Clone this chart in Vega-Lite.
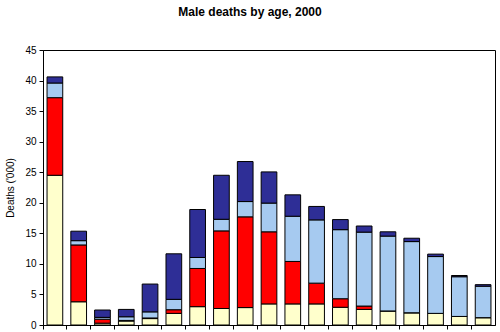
{
  "$schema": "https://vega.github.io/schema/vega-lite/v6.json",
  "width": 452,
  "height": 275,
  "autosize": "none",
  "padding": {"left": 43, "top": 50, "right": 5, "bottom": 7},
  "background": "white",
  "title": {
    "text": "Male deaths by age, 2000",
    "font": "Liberation Sans",
    "fontSize": 12,
    "fontWeight": "bold",
    "color": "black",
    "anchor": "middle",
    "frame": "group",
    "dx": -19,
    "offset": 26
  },
  "config": {
    "view": {"stroke": "black", "strokeWidth": 1},
    "axis": {
      "labelFont": "Liberation Sans",
      "labelFontSize": 10,
      "labelColor": "black",
      "titleFont": "Liberation Sans",
      "titleFontSize": 10,
      "titleFontWeight": "normal",
      "titleColor": "black",
      "domainColor": "black",
      "tickColor": "black",
      "grid": false
    }
  },
  "data": {
    "values": [
      {"age": "0", "cause": "Communicable", "rank": 1, "deaths": 24.5},
      {"age": "0", "cause": "HIV/AIDS", "rank": 2, "deaths": 12.7},
      {"age": "0", "cause": "Non-communicable", "rank": 3, "deaths": 2.4},
      {"age": "0", "cause": "Injuries", "rank": 4, "deaths": 1.0},
      {"age": "1-4", "cause": "Communicable", "rank": 1, "deaths": 3.8},
      {"age": "1-4", "cause": "HIV/AIDS", "rank": 2, "deaths": 9.3},
      {"age": "1-4", "cause": "Non-communicable", "rank": 3, "deaths": 0.7},
      {"age": "1-4", "cause": "Injuries", "rank": 4, "deaths": 1.55},
      {"age": "5-9", "cause": "Communicable", "rank": 1, "deaths": 0.3},
      {"age": "5-9", "cause": "HIV/AIDS", "rank": 2, "deaths": 0.65},
      {"age": "5-9", "cause": "Non-communicable", "rank": 3, "deaths": 0.3},
      {"age": "5-9", "cause": "Injuries", "rank": 4, "deaths": 1.2},
      {"age": "10-14", "cause": "Communicable", "rank": 1, "deaths": 0.65},
      {"age": "10-14", "cause": "HIV/AIDS", "rank": 2, "deaths": 0.1},
      {"age": "10-14", "cause": "Non-communicable", "rank": 3, "deaths": 0.6},
      {"age": "10-14", "cause": "Injuries", "rank": 4, "deaths": 1.2},
      {"age": "15-19", "cause": "Communicable", "rank": 1, "deaths": 1.05},
      {"age": "15-19", "cause": "HIV/AIDS", "rank": 2, "deaths": 0.1},
      {"age": "15-19", "cause": "Non-communicable", "rank": 3, "deaths": 1.0},
      {"age": "15-19", "cause": "Injuries", "rank": 4, "deaths": 4.55},
      {"age": "20-24", "cause": "Communicable", "rank": 1, "deaths": 1.9},
      {"age": "20-24", "cause": "HIV/AIDS", "rank": 2, "deaths": 0.6},
      {"age": "20-24", "cause": "Non-communicable", "rank": 3, "deaths": 1.7},
      {"age": "20-24", "cause": "Injuries", "rank": 4, "deaths": 7.45},
      {"age": "25-29", "cause": "Communicable", "rank": 1, "deaths": 3.0},
      {"age": "25-29", "cause": "HIV/AIDS", "rank": 2, "deaths": 6.25},
      {"age": "25-29", "cause": "Non-communicable", "rank": 3, "deaths": 1.8},
      {"age": "25-29", "cause": "Injuries", "rank": 4, "deaths": 7.85},
      {"age": "30-34", "cause": "Communicable", "rank": 1, "deaths": 2.7},
      {"age": "30-34", "cause": "HIV/AIDS", "rank": 2, "deaths": 12.7},
      {"age": "30-34", "cause": "Non-communicable", "rank": 3, "deaths": 1.9},
      {"age": "30-34", "cause": "Injuries", "rank": 4, "deaths": 7.2},
      {"age": "35-39", "cause": "Communicable", "rank": 1, "deaths": 2.85},
      {"age": "35-39", "cause": "HIV/AIDS", "rank": 2, "deaths": 14.85},
      {"age": "35-39", "cause": "Non-communicable", "rank": 3, "deaths": 2.5},
      {"age": "35-39", "cause": "Injuries", "rank": 4, "deaths": 6.55},
      {"age": "40-44", "cause": "Communicable", "rank": 1, "deaths": 3.45},
      {"age": "40-44", "cause": "HIV/AIDS", "rank": 2, "deaths": 11.8},
      {"age": "40-44", "cause": "Non-communicable", "rank": 3, "deaths": 4.7},
      {"age": "40-44", "cause": "Injuries", "rank": 4, "deaths": 5.1},
      {"age": "45-49", "cause": "Communicable", "rank": 1, "deaths": 3.45},
      {"age": "45-49", "cause": "HIV/AIDS", "rank": 2, "deaths": 6.95},
      {"age": "45-49", "cause": "Non-communicable", "rank": 3, "deaths": 7.4},
      {"age": "45-49", "cause": "Injuries", "rank": 4, "deaths": 3.5},
      {"age": "50-54", "cause": "Communicable", "rank": 1, "deaths": 3.45},
      {"age": "50-54", "cause": "HIV/AIDS", "rank": 2, "deaths": 3.4},
      {"age": "50-54", "cause": "Non-communicable", "rank": 3, "deaths": 10.35},
      {"age": "50-54", "cause": "Injuries", "rank": 4, "deaths": 2.2},
      {"age": "55-59", "cause": "Communicable", "rank": 1, "deaths": 2.9},
      {"age": "55-59", "cause": "HIV/AIDS", "rank": 2, "deaths": 1.4},
      {"age": "55-59", "cause": "Non-communicable", "rank": 3, "deaths": 11.3},
      {"age": "55-59", "cause": "Injuries", "rank": 4, "deaths": 1.65},
      {"age": "60-64", "cause": "Communicable", "rank": 1, "deaths": 2.55},
      {"age": "60-64", "cause": "HIV/AIDS", "rank": 2, "deaths": 0.55},
      {"age": "60-64", "cause": "Non-communicable", "rank": 3, "deaths": 12.1},
      {"age": "60-64", "cause": "Injuries", "rank": 4, "deaths": 1.0},
      {"age": "65-69", "cause": "Communicable", "rank": 1, "deaths": 2.3},
      {"age": "65-69", "cause": "HIV/AIDS", "rank": 2, "deaths": 0.0},
      {"age": "65-69", "cause": "Non-communicable", "rank": 3, "deaths": 12.25},
      {"age": "65-69", "cause": "Injuries", "rank": 4, "deaths": 0.7},
      {"age": "70-74", "cause": "Communicable", "rank": 1, "deaths": 2.0},
      {"age": "70-74", "cause": "HIV/AIDS", "rank": 2, "deaths": 0.0},
      {"age": "70-74", "cause": "Non-communicable", "rank": 3, "deaths": 11.65},
      {"age": "70-74", "cause": "Injuries", "rank": 4, "deaths": 0.55},
      {"age": "75-79", "cause": "Communicable", "rank": 1, "deaths": 1.9},
      {"age": "75-79", "cause": "HIV/AIDS", "rank": 2, "deaths": 0.0},
      {"age": "75-79", "cause": "Non-communicable", "rank": 3, "deaths": 9.3},
      {"age": "75-79", "cause": "Injuries", "rank": 4, "deaths": 0.4},
      {"age": "80-84", "cause": "Communicable", "rank": 1, "deaths": 1.4},
      {"age": "80-84", "cause": "HIV/AIDS", "rank": 2, "deaths": 0.0},
      {"age": "80-84", "cause": "Non-communicable", "rank": 3, "deaths": 6.5},
      {"age": "80-84", "cause": "Injuries", "rank": 4, "deaths": 0.2},
      {"age": "85+", "cause": "Communicable", "rank": 1, "deaths": 1.2},
      {"age": "85+", "cause": "HIV/AIDS", "rank": 2, "deaths": 0.0},
      {"age": "85+", "cause": "Non-communicable", "rank": 3, "deaths": 5.15},
      {"age": "85+", "cause": "Injuries", "rank": 4, "deaths": 0.25}
    ]
  },
  "mark": {"type": "bar", "stroke": "black", "strokeWidth": 1, "width": {"band": 0.66}},
  "encoding": {
    "x": {
      "field": "age",
      "type": "nominal",
      "sort": null,
      "scale": {"paddingInner": 0, "paddingOuter": 0},
      "axis": {"title": null, "labels": false, "ticks": true, "tickSize": 4, "bandPosition": 0}
    },
    "y": {
      "field": "deaths",
      "type": "quantitative",
      "stack": "zero",
      "scale": {"domain": [0, 45], "nice": false},
      "axis": {
        "title": "Deaths ('000)",
        "values": [0, 5, 10, 15, 20, 25, 30, 35, 40, 45],
        "tickSize": 4,
        "labelPadding": 3,
        "titlePadding": 9
      }
    },
    "order": {"field": "rank", "type": "quantitative", "sort": "ascending"},
    "color": {
      "field": "cause",
      "type": "nominal",
      "scale": {
        "domain": ["Communicable", "HIV/AIDS", "Non-communicable", "Injuries"],
        "range": ["#FFFFCC", "#FF0000", "#A6CAF0", "#2E2E96"]
      },
      "legend": null
    }
  }
}
